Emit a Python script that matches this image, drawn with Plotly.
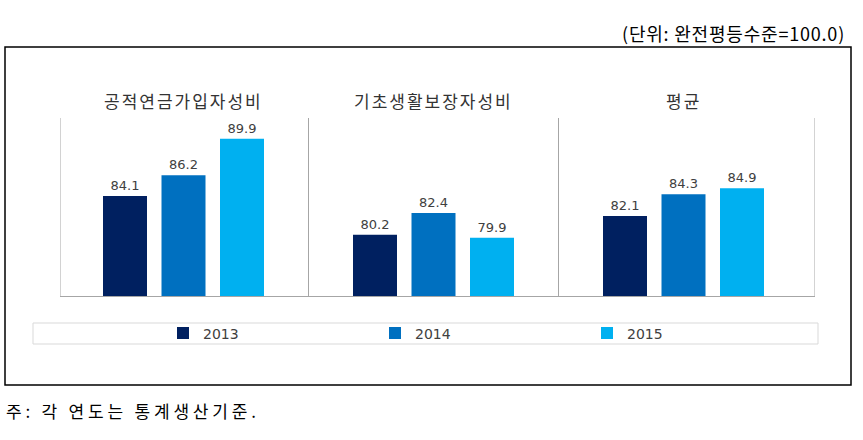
import plotly.graph_objects as go

categories = ["공적연금가입자성비", "기초생활보장자성비", "평균"]
years = ["2013", "2014", "2015"]
values_2013 = [84.1, 80.2, 82.1]
values_2014 = [86.2, 82.4, 84.3]
values_2015 = [89.9, 79.9, 84.9]
colors = ["#002060", "#0070C0", "#00B0F0"]
unit_text = "(단위: 완전평등수준=100.0)"
note_text = "주: 각 연도는 통계생산기준."

W, H = 863, 440
L, R, T, B = 60, 48, 118, 144
pw, ph = W - L - R, H - T - B

def px(x):
    return (x - L) / pw

def py(y):
    return (H - B - y) / ph

fig = go.Figure()
xs = list(range(len(categories)))
for yr, vals, col in zip(years, [values_2013, values_2014, values_2015], colors):
    fig.add_trace(go.Bar(
        x=xs, y=vals, name=yr, marker=dict(color=col, line=dict(width=0)),
        text=[f"{v:.1f}" for v in vals], textposition="outside",
        textfont=dict(family="DejaVu Sans", size=13, color="#404040"),
        cliponaxis=False,
    ))

XR = [-0.494, 2.526]
shapes = []
for xv in [XR[0], 0.5, 1.5, XR[1]]:
    shapes.append(dict(type="line", xref="x", yref="paper", x0=xv, x1=xv, y0=0, y1=1,
                       line=dict(color="#a6a6a6", width=1)))
shapes.append(dict(type="rect", xref="paper", yref="paper", x0=px(5), x1=px(851),
                   y0=py(385), y1=py(47), line=dict(color="#000000", width=1.5)))
shapes.append(dict(type="rect", xref="paper", yref="paper", x0=px(33), x1=px(818),
                   y0=py(344), y1=py(323), line=dict(color="#d9d9d9", width=1)))

annotations = []
for i, c in enumerate(categories):
    annotations.append(dict(x=i, y=py(100), xref="x", yref="paper",
                            text=f"<span style='letter-spacing:2px'>{c}</span>", showarrow=False,
                            font=dict(family="Noto Sans CJK KR", size=17, color="#333333"),
                            xanchor="center", yanchor="middle"))
annotations.append(dict(x=px(847), y=py(33), xref="paper", yref="paper",
                        text=f"<span style='letter-spacing:0.8px'>{unit_text}</span>",
                        showarrow=False, xanchor="right", yanchor="middle",
                        font=dict(family="Noto Sans CJK KR", size=18, color="#000000")))
annotations.append(dict(x=px(4), y=py(410), xref="paper", yref="paper",
                        text=f"<span style='letter-spacing:3.8px'>{note_text}</span>",
                        showarrow=False, xanchor="left", yanchor="middle",
                        font=dict(family="Noto Sans CJK KR", size=17, color="#000000")))

fig.update_layout(
    width=W, height=H,
    margin=dict(l=L, r=R, t=T, b=B, pad=0),
    paper_bgcolor="white", plot_bgcolor="white",
    barmode="group", bargap=0.298, bargroupgap=0.248,
    xaxis=dict(range=XR, showticklabels=False, showgrid=False, zeroline=False,
               showline=True, linecolor="#a6a6a6", linewidth=1, ticks=""),
    yaxis=dict(range=[74, 92], visible=False),
    showlegend=True,
    legend=dict(orientation="h", x=px(163), y=py(333.5), xanchor="left", yanchor="middle",
                entrywidth=167, entrywidthmode="pixels", bgcolor="rgba(0,0,0,0)",
                font=dict(family="DejaVu Sans", size=14, color="#404040"),
                itemclick=False, traceorder="normal"),
    shapes=shapes, annotations=annotations,
)

fig.write_html("out.html", config={"displayModeBar": False},
               post_script="document.body.style.margin='0';")
